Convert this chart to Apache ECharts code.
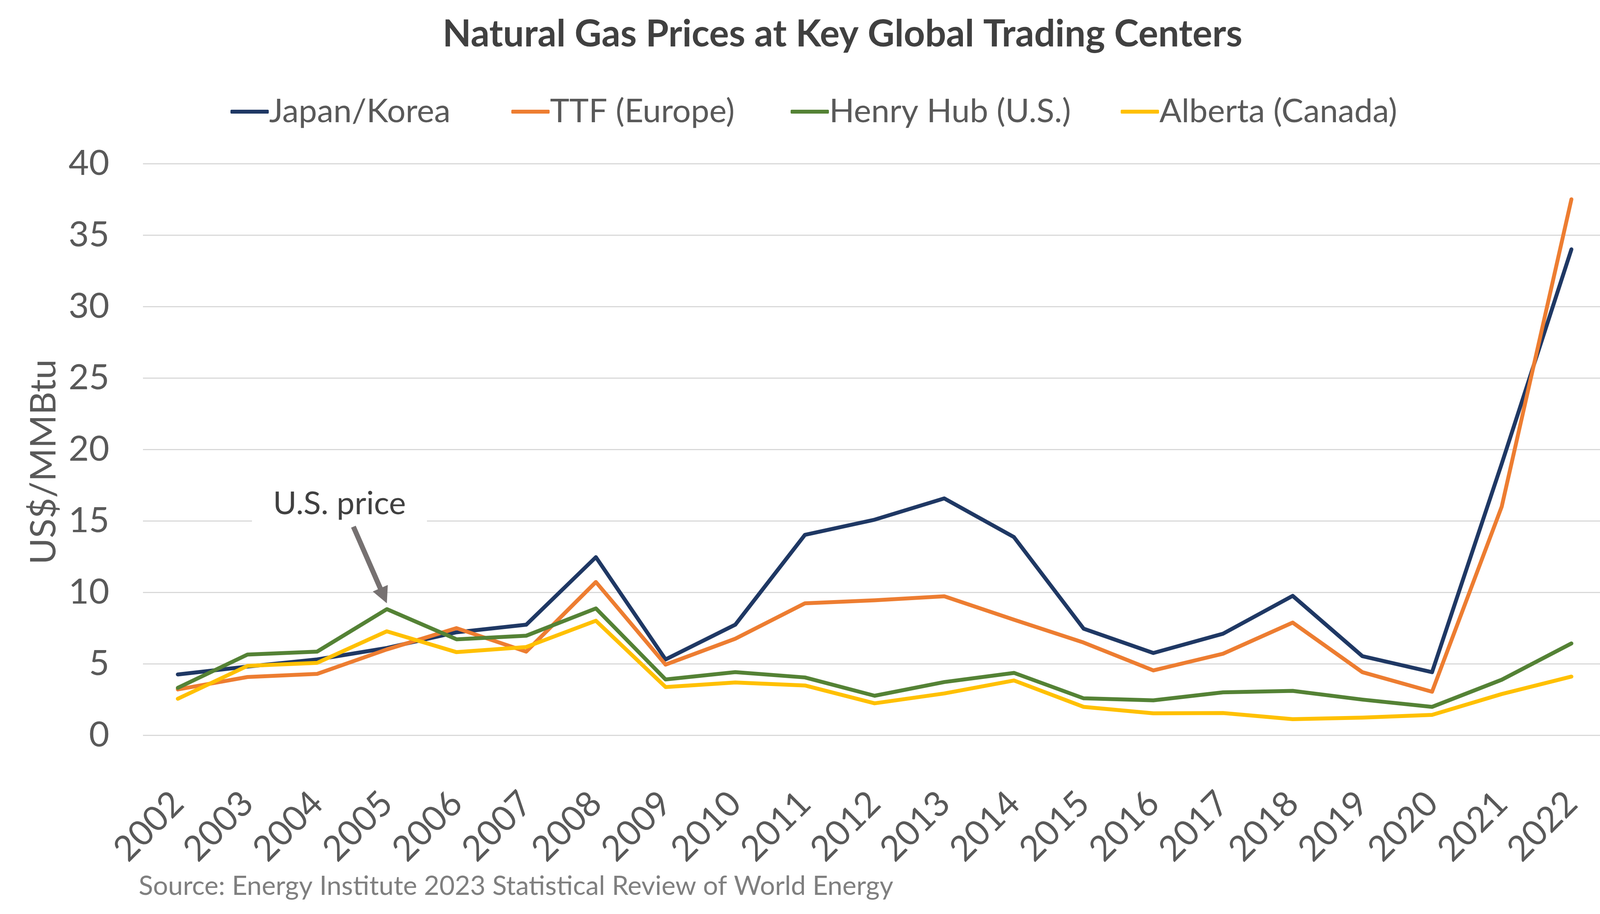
<!DOCTYPE html>
<html lang="en">
<head>
    <meta charset="UTF-8">
    <title>Natural Gas Prices</title>
    <script src="https://cdn.jsdelivr.net/npm/echarts@6/dist/echarts.min.js"></script>
</head>
<style>
    *{
        margin: 0;
        padding: 0;
    }
    html , body{
        width: 100%;
        height: 100%;
        background: #fff;
    }
    .container{
        width: 4162px;
        height: 2341px;
    }
</style>
<body>
<div class="container"></div>
<script>
    // values, US$/MMBtu
    const years = ['2002','2003','2004','2005','2006','2007','2008','2009','2010','2011','2012',
        '2013','2014','2015','2016','2017','2018','2019','2020','2021','2022'];
    const japanKorea = [4.25, 4.8, 5.3, 6.1, 7.2, 7.73, 12.46, 5.3, 7.73, 14.02, 15.08,
        16.57, 13.86, 7.45, 5.75, 7.1, 9.75, 5.53, 4.41, 19.0, 34.0];
    const ttf = [3.2, 4.07, 4.29, 6.0, 7.49, 5.85, 10.72, 4.94, 6.75, 9.23, 9.44,
        9.72, 8.08, 6.48, 4.53, 5.7, 7.88, 4.41, 3.04, 16.0, 37.5];
    const henryHub = [3.31, 5.64, 5.85, 8.82, 6.71, 6.96, 8.87, 3.9, 4.41, 4.04, 2.76,
        3.72, 4.36, 2.58, 2.44, 3.0, 3.1, 2.49, 1.98, 3.88, 6.42];
    const alberta = [2.55, 4.85, 5.06, 7.27, 5.81, 6.17, 8.01, 3.37, 3.69, 3.48, 2.23,
        2.92, 3.83, 1.98, 1.53, 1.55, 1.12, 1.23, 1.42, 2.88, 4.1];
    const seriesNames = ['Japan/Korea', 'TTF (Europe)', 'Henry Hub (U.S.)', 'Alberta (Canada)'];
    const yTicks = [0, 5, 10, 15, 20, 25, 30, 35, 40];

    const colors = ['#1f3864', '#ed7d31', '#548235', '#ffc000'];
    const legendLeft = [585, 1304, 2019, 2864];
    const font = 'Lato, "Open Sans", sans-serif';

    let container = document.querySelector('.container');
    let mycharts = echarts.init(container);

    function line(name, data, color) {
        return {
            name, data, type: 'line',
            showSymbol: false,
            symbol: 'none',
            lineStyle: {width: 10, color, cap: 'round', join: 'round'},
            itemStyle: {color},
        };
    }

    // one legend per item so each sits where it does in the original
    let legend = seriesNames.map((name, i) => ({
        data: [name],
        left: legendLeft[i],
        top: 239,
        icon: 'roundRect',
        itemWidth: 98,
        itemHeight: 10,
        textStyle: {fontFamily: font, fontSize: 84, color: '#595959', padding: [0, 0, 0, -4]}
    }));

    let options = {
        backgroundColor: '#fff',
        animation: false,
        title: {
            text: 'Natural Gas Prices at Key Global Trading Centers',
            left: '51.7%',
            textAlign: 'center',
            top: 36,
            textStyle: {fontFamily: font, fontSize: 95, fontWeight: 'bold', color: '#404040'}
        },
        legend,
        grid: {left: 366, right: 50, top: 419, bottom: 458},
        xAxis: {
            type: 'category',
            data: years,
            axisLine: {show: false},
            axisTick: {show: false},
            axisLabel: {rotate: 45, fontFamily: font, fontSize: 90, color: '#595959', margin: 160}
        },
        yAxis: {
            type: 'value',
            min: yTicks[0],
            max: yTicks[yTicks.length - 1],
            interval: 5,
            axisLabel: {fontFamily: font, fontSize: 90, color: '#595959', margin: 86},
            splitLine: {lineStyle: {color: '#d9d9d9', width: 3}}
        },
        series: [
            line(seriesNames[0], japanKorea, colors[0]),
            line(seriesNames[1], ttf, colors[1]),
            line(seriesNames[2], henryHub, colors[2]),
            line(seriesNames[3], alberta, colors[3]),
        ],
    };

    mycharts.setOption(options);

    // annotation: "U.S. price" with arrow to the 2005 Henry Hub peak
    function pt(idx, v) {
        let i = Math.floor(idx), f = idx - i;
        let a = mycharts.convertToPixel({gridIndex: 0}, [i, v]);
        let b = mycharts.convertToPixel({gridIndex: 0}, [i + 1, v]);
        return [a[0] + f * (b[0] - a[0]), a[1]];
    }
    let label = pt(2.32, 16.2);
    let from = pt(2.52, 14.59);
    let tip = pt(3.0, 9.23);
    let dx = tip[0] - from[0], dy = tip[1] - from[1];
    let len = Math.sqrt(dx * dx + dy * dy);
    let ux = dx / len, uy = dy / len;
    let headLen = 42, headW = 21;
    let base = [tip[0] - ux * headLen, tip[1] - uy * headLen];
    let gridMid = mycharts.convertToPixel({gridIndex: 0}, [0, 20]);

    mycharts.setOption({
        graphic: [
            {
                type: 'text',
                x: 112, y: gridMid[1] + 32,
                rotation: Math.PI / 2,
                style: {
                    text: 'US$/MMBtu',
                    font: '92px ' + font,
                    fill: '#595959',
                    align: 'center',
                    verticalAlign: 'middle'
                }
            },
            {
                type: 'text',
                x: label[0], y: label[1],
                style: {
                    text: 'U.S. price',
                    font: '82px ' + font,
                    fill: '#404040',
                    align: 'center',
                    verticalAlign: 'middle',
                    backgroundColor: '#fff',
                    padding: [30, 54]
                },
                z: 10
            },
            {
                type: 'line',
                shape: {x1: from[0], y1: from[1], x2: base[0] + ux * 4, y2: base[1] + uy * 4},
                style: {stroke: '#767171', lineWidth: 13},
                z: 10
            },
            {
                type: 'polygon',
                shape: {points: [tip,
                    [base[0] - uy * headW, base[1] + ux * headW],
                    [base[0] + uy * headW, base[1] - ux * headW]]},
                style: {fill: '#767171'},
                z: 10
            },
            {
                type: 'text',
                x: 355, y: 2270,
                style: {
                    text: 'Source: Energy Institute 2023 Statistical Review of World Energy',
                    font: '68px ' + font,
                    fill: '#7f7f7f',
                    verticalAlign: 'middle'
                }
            }
        ]
    });
</script>
</body>
</html>
